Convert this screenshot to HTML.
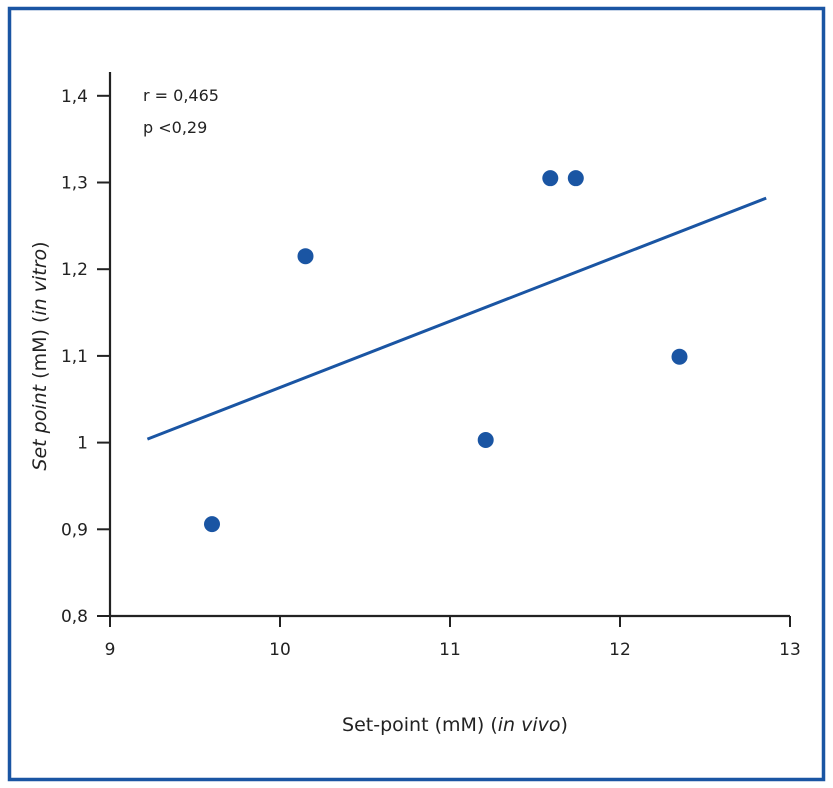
<!DOCTYPE html>
<html><head><meta charset="utf-8"><style>
html,body{margin:0;padding:0;background:#fff;}
svg{display:block;font-family:"DejaVu Sans","Liberation Sans",sans-serif;}
</style></head><body>
<svg id="chart" width="833" height="788">
<rect x="9.5" y="8.5" width="814" height="771" fill="none" stroke="#1a55a3" stroke-width="3.5"/>
<g id="plot"></g>
<text x="143" y="101" font-size="16" fill="#222">r = 0,465</text>
<text x="143" y="133" font-size="16" fill="#222">p &lt;0,29</text>
<text x="455" y="731" font-size="19" fill="#222" text-anchor="middle">Set-point (mM) (<tspan font-style="italic">in vivo</tspan>)</text>
<text transform="translate(46,356) rotate(-90)" font-size="19" fill="#222" text-anchor="middle"><tspan font-style="italic">Set point</tspan> (mM) (<tspan font-style="italic">in vitro</tspan>)</text>
</svg>
<script>
const xTicks=[9,10,11,12,13];
const yTicks=[0.8,0.9,1,1.1,1.2,1.3,1.4];
const yTickLabels=["0,8","0,9","1","1,1","1,2","1,3","1,4"];
const xValues=[9.6,10.15,11.21,11.59,11.74,12.35];
const yValues=[0.906,1.215,1.003,1.305,1.305,1.099];
const fitX=[9.22,12.86];
const fitY=[1.004,1.282];
const NS="http://www.w3.org/2000/svg";
const g=document.getElementById('plot');
const X=v=>110+(v-9)*170;
const Y=v=>616-(v-0.8)*867;
function mk(t,a){const e=document.createElementNS(NS,t);for(const k in a)e.setAttribute(k,a[k]);g.appendChild(e);return e;}
let e=mk('line',{x1:110,y1:616,x2:790,y2:616,stroke:'#222','stroke-width':2.2});


e=mk('line',{x1:110,y1:616,x2:110,y2:72,stroke:'#222','stroke-width':2.2});


xTicks.forEach(v=>{
 let t=mk('line',{x1:X(v),y1:616,x2:X(v),y2:627,stroke:'#222','stroke-width':2});
 
 
 let l=mk('text',{x:X(v),y:655,'font-size':17,fill:'#222','text-anchor':'middle'});
 l.textContent=String(v);
 
 
});
yTicks.forEach((v,i)=>{
 let t=mk('line',{x1:97,y1:Y(v),x2:110,y2:Y(v),stroke:'#222','stroke-width':2});
 
 
 let l=mk('text',{x:88,y:Y(v)+6,'font-size':17,fill:'#222','text-anchor':'end'});
 l.textContent=yTickLabels[i];
 
 
});
e=mk('line',{x1:X(fitX[0]),y1:Y(fitY[0]),x2:X(fitX[1]),y2:Y(fitY[1]),stroke:'#1a55a3','stroke-width':3});


xValues.forEach((v,i)=>{
 let c=mk('circle',{cx:X(v),cy:Y(yValues[i]),r:8,fill:'#1a55a3'});
 
 
});
</script>
</body></html>
